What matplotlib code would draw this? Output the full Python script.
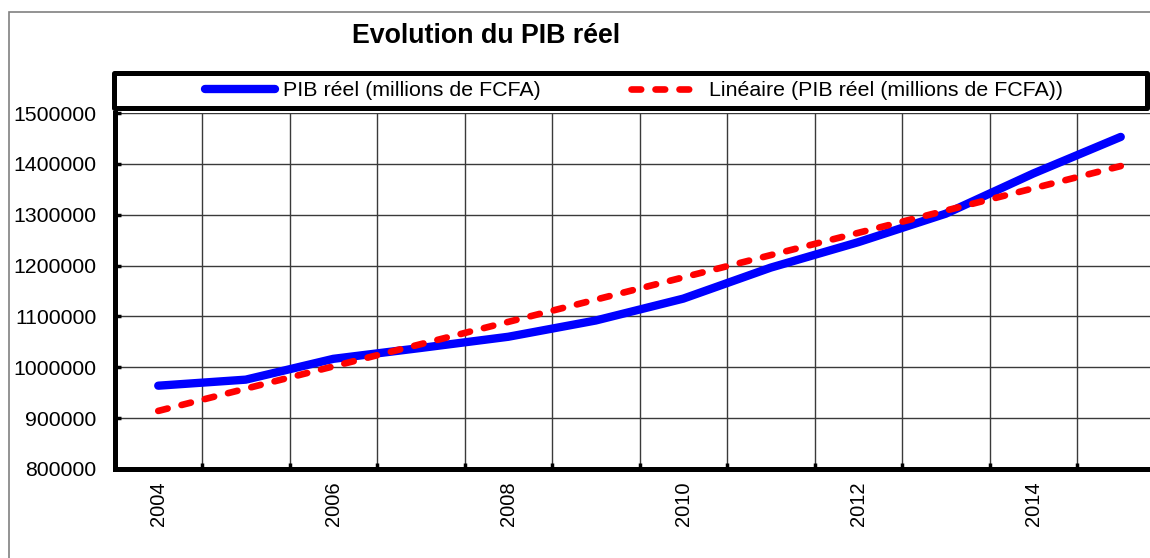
import numpy as np
import matplotlib
matplotlib.use("Agg")
import matplotlib.pyplot as plt
from matplotlib.patches import Rectangle
from matplotlib.ticker import FixedLocator, NullFormatter, FixedFormatter

plt.rcParams['font.family'] = ['Liberation Sans', 'DejaVu Sans']

# PIB réel (millions de FCFA)
annees = [2004, 2005, 2006, 2007, 2008, 2009, 2010, 2011, 2012, 2013, 2014, 2015]
pib = [963800, 975700, 1016600, 1038000, 1060000, 1092000,
       1135000, 1196000, 1246000, 1302000, 1381000, 1453000]
labels_annees = ['2004', '2006', '2008', '2010', '2012', '2014']
y_ticks = [800000, 900000, 1000000, 1100000, 1200000, 1300000, 1400000, 1500000]

W, H = 1150, 558
fig = plt.figure(figsize=(W / 100, H / 100), dpi=100)

# cadre gris du graphique
fig.patches.append(Rectangle((9 / W, -0.1), 1.2, 1 - 12 / H + 0.1, transform=fig.transFigure,
                             fill=False, edgecolor='#808080', linewidth=1.2))

ax = fig.add_axes([114.5 / W, 89 / H, 1050 / W, 356 / H])

x = np.arange(len(annees))
y = np.array(pib)
coef = np.polyfit(x, y, 1)
tendance = np.polyval(coef, x)

ax.plot(x, y, color='#0000FF', linewidth=6.0, solid_capstyle='round', solid_joinstyle='round',
        label='PIB réel (millions de FCFA)', zorder=3)
ax.plot(x, tendance, color='#FF0000', linewidth=4.8, linestyle=(0, (1.45, 2.15)),
        dash_capstyle='round', label='Linéaire (PIB réel (millions de FCFA))', zorder=4)

ax.set_xlim(-0.5, len(annees) - 0.5)
ax.set_ylim(800000, 1500000)

# axe des catégories : graduations entre les années, étiquettes une année sur deux
ax.xaxis.set_major_locator(FixedLocator(np.arange(len(annees) - 1) + 0.5))
ax.xaxis.set_major_formatter(NullFormatter())
ax.xaxis.set_minor_locator(FixedLocator(x[::2]))
ax.xaxis.set_minor_formatter(FixedFormatter(labels_annees))
ax.tick_params(axis='x', which='major', direction='in', length=4, width=2.5, color='black')
ax.tick_params(axis='x', which='minor', length=0, pad=9, labelsize=14.5, labelrotation=90)

ax.set_yticks(y_ticks)
ax.set_yticklabels([str(v) for v in y_ticks])
ax.tick_params(axis='y', direction='in', length=4, width=2.5, color='black', pad=13, labelsize=15.3)

ax.grid(True, which='major', color='#3a3a3a', linewidth=1.0)
ax.set_axisbelow(True)

for s in ['top', 'right']:
    ax.spines[s].set_visible(False)
for s in ['left', 'bottom']:
    ax.spines[s].set_linewidth(3.6)
    ax.spines[s].set_color('black')

fig.text(486 / W, 1 - 43 / H, 'Evolution du PIB réel', ha='center', va='baseline',
         fontsize=19.3, fontweight='bold')

# encadré de la légende
fig.patches.append(Rectangle((114 / W, 1 - 108 / H), 1033 / W, 35 / H, transform=fig.transFigure,
                             fill=False, edgecolor='black', linewidth=3.6, joinstyle='round'))
ax.legend(loc='center', bbox_to_anchor=(634 / W, 1 - 90.5 / H), bbox_transform=fig.transFigure,
          ncol=2, frameon=False, fontsize=15.4, handlelength=3.27, handletextpad=0.37,
          columnspacing=4.25, borderpad=0)

fig.savefig('out.png', dpi=100)
